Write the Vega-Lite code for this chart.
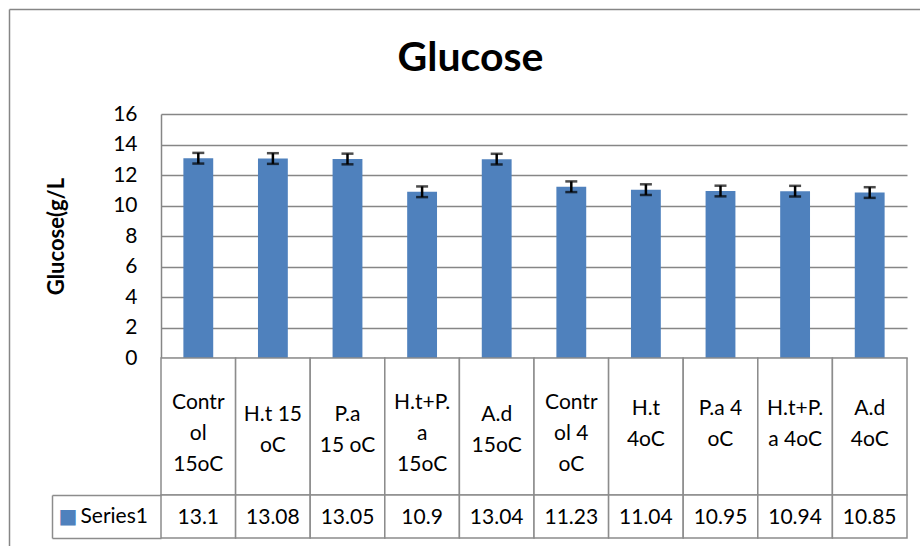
{
  "$schema": "https://vega.github.io/schema/vega-lite/v6.json",
  "background": "white",
  "padding": {"left": 9, "top": 3, "right": 0, "bottom": 0},
  "config": {"view": {"stroke": null}, "font": "Lato"},
  "datasets": {
    "glu": [
      {"cat": "Control 15oC", "label": "Contr\nol\n15oC", "value": 13.1, "err": 0.35, "series": "Series1"},
      {"cat": "H.t 15 oC", "label": "H.t 15\noC", "value": 13.08, "err": 0.35, "series": "Series1"},
      {"cat": "P.a 15 oC", "label": "P.a\n15 oC", "value": 13.05, "err": 0.35, "series": "Series1"},
      {"cat": "H.t+P.a 15oC", "label": "H.t+P.\na\n15oC", "value": 10.9, "err": 0.35, "series": "Series1"},
      {"cat": "A.d 15oC", "label": "A.d\n15oC", "value": 13.04, "err": 0.35, "series": "Series1"},
      {"cat": "Control 4 oC", "label": "Contr\nol 4\noC", "value": 11.23, "err": 0.35, "series": "Series1"},
      {"cat": "H.t 4oC", "label": "H.t\n4oC", "value": 11.04, "err": 0.35, "series": "Series1"},
      {"cat": "P.a  4 oC", "label": "P.a  4\noC", "value": 10.95, "err": 0.35, "series": "Series1"},
      {"cat": "H.t+P.a 4oC", "label": "H.t+P.\na 4oC", "value": 10.94, "err": 0.35, "series": "Series1"},
      {"cat": "A.d 4oC", "label": "A.d\n4oC", "value": 10.85, "err": 0.35, "series": "Series1"}
    ]
  },
  "vconcat": [
    {
      "width": 746,
      "height": 244,
      "data": {"name": "glu"},
      "resolve": {"scale": {"x": "independent", "y": "independent"}, "axis": {"x": "independent", "y": "independent"}},
      "layer": [
        {
          "encoding": {
            "x": {"field": "cat", "type": "nominal", "sort": null, "scale": {"paddingInner": 0, "paddingOuter": 0}, "axis": null},
            "y": {"field": "value", "type": "quantitative", "scale": {"domain": [0, 16], "nice": false},
              "axis": {"title": "Glucose(g/L", "titleFont": "Lato", "titleFontSize": 22, "titleFontWeight": "bold", "titleColor": "black", "titlePadding": 44,
                "values": [0, 2, 4, 6, 8, 10, 12, 14, 16], "labelFont": "Lato", "labelFontSize": 21, "labelColor": "black", "labelPadding": 24, "labelOverlap": false,
                "ticks": false, "domain": true, "domainColor": "#868686", "domainWidth": 1.5, "grid": true, "gridColor": "#868686", "gridWidth": 1.5}}
          },
          "layer": [
            {"mark": {"type": "bar", "color": "#4F81BD", "width": {"band": 0.4}}},
            {
              "mark": {"type": "errorbar", "color": "black", "thickness": 2.5, "ticks": {"size": 12, "color": "black"}},
              "encoding": {"yError": {"field": "err"}}
            }
          ]
        },
        {
          "mark": {"type": "text", "text": ""},
          "encoding": {
            "x": {"field": "value", "type": "quantitative", "scale": {"range": [-152, 759], "nice": false, "zero": false},
              "axis": {"orient": "top", "offset": 105, "domain": true, "domainColor": "#868686", "domainWidth": 1.5, "ticks": false, "labels": false, "grid": false,
                "title": "Glucose", "titleFont": "Lato", "titleFontSize": 41, "titleFontWeight": "bold", "titleColor": "black",
                "titleX": 309, "titleY": 61, "titleAlign": "center", "titleBaseline": "alphabetic", "titleAngle": 0}},
            "y": {"field": "value", "type": "quantitative", "scale": {"range": [432, -105], "nice": false, "zero": false},
              "axis": {"orient": "left", "offset": 152, "domain": true, "domainColor": "#868686", "domainWidth": 1.5, "ticks": false, "labels": false, "grid": false, "title": null}}
          }
        }
      ]
    },
    {
      "width": 746,
      "height": 137,
      "data": {"name": "glu"},
      "encoding": {
        "x": {"field": "cat", "type": "nominal", "sort": null, "scale": {"paddingInner": 0, "paddingOuter": 0}, "axis": null},
        "y": {"field": "series", "type": "nominal", "scale": {"paddingInner": 0, "paddingOuter": 0}, "axis": null}
      },
      "layer": [
        {
          "mark": {"type": "rect", "fill": "white", "stroke": "#8c8c8c", "strokeWidth": 1.5}
        },
        {
          "transform": [{"filter": "indexof(['Control 15oC', 'H.t+P.a 15oC', 'Control 4 oC'], datum.cat) >= 0"}],
          "mark": {"type": "text", "font": "Lato", "fontSize": 21, "color": "black", "lineBreak": "\n", "lineHeight": 31, "align": "center", "baseline": "alphabetic", "dy": -17.5},
          "encoding": {"text": {"field": "label", "type": "nominal"}}
        },
        {
          "transform": [{"filter": "indexof(['H.t 15 oC', 'P.a 15 oC', 'A.d 15oC'], datum.cat) >= 0"}],
          "mark": {"type": "text", "font": "Lato", "fontSize": 21, "color": "black", "lineBreak": "\n", "lineHeight": 31, "align": "center", "baseline": "alphabetic", "dy": -5.5},
          "encoding": {"text": {"field": "label", "type": "nominal"}}
        },
        {
          "transform": [{"filter": "indexof(['H.t 4oC', 'P.a  4 oC', 'H.t+P.a 4oC', 'A.d 4oC'], datum.cat) >= 0"}],
          "mark": {"type": "text", "font": "Lato", "fontSize": 21, "color": "black", "lineBreak": "\n", "lineHeight": 31, "align": "center", "baseline": "alphabetic", "dy": -11.5},
          "encoding": {"text": {"field": "label", "type": "nominal"}}
        }
      ]
    },
    {
      "width": 746,
      "height": 43,
      "data": {"name": "glu"},
      "resolve": {"scale": {"y": "independent"}, "axis": {"y": "independent"}},
      "layer": [
        {
          "mark": {"type": "rect", "fill": "white", "stroke": "#8c8c8c", "strokeWidth": 1.5},
          "encoding": {
            "x": {"field": "cat", "type": "nominal", "sort": null, "scale": {"paddingInner": 0, "paddingOuter": 0}, "axis": null},
            "y": {"field": "series", "type": "nominal", "scale": {"paddingInner": 0, "paddingOuter": 0},
              "axis": {"orient": "left", "title": null, "domain": false, "ticks": true, "tickBand": "extent", "tickExtra": true, "tickSize": 109, "tickColor": "#8c8c8c", "tickWidth": 1.5,
                "labelFont": "Lato", "labelFontSize": 21, "labelColor": "black", "labelAlign": "left", "labelBaseline": "middle", "labelPadding": -28}}
          }
        },
        {
          "mark": {"type": "text", "font": "Lato", "fontSize": 21, "color": "black", "align": "center", "baseline": "middle", "dy": 1},
          "encoding": {
            "x": {"field": "cat", "type": "nominal", "sort": null, "axis": null},
            "y": {"field": "series", "type": "nominal", "scale": {"paddingInner": 0, "paddingOuter": 0}, "axis": null},
            "text": {"field": "value", "type": "nominal"}
          }
        },
        {
          "mark": {"type": "text", "text": ""},
          "encoding": {
            "x": {"field": "cat", "type": "nominal", "sort": null, "axis": null},
            "y": {"field": "series", "type": "nominal", "scale": {"paddingInner": 0, "paddingOuter": 0},
              "axis": {"orient": "left", "offset": 109, "title": null, "domain": true, "domainColor": "#8c8c8c", "domainWidth": 1.5, "ticks": false, "tickSize": 0,
                "labelExpr": "'■'", "labelFont": "DejaVu Sans", "labelFontSize": 20, "labelColor": "#4F81BD", "labelAlign": "left", "labelBaseline": "middle", "labelPadding": -6}}
          }
        }
      ]
    }
  ],
  "spacing": 0,
  "bounds": "flush"
}
